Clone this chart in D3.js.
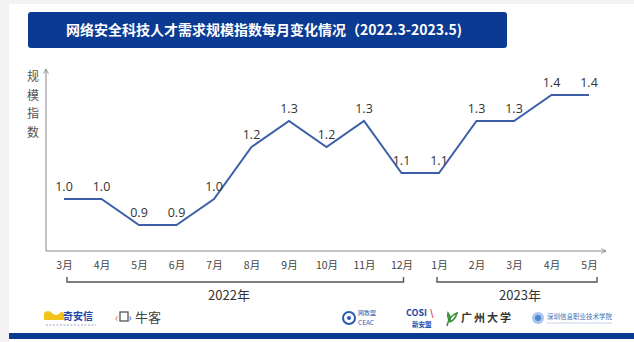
<!DOCTYPE html>
<html>
<head>
<meta charset="utf-8">
<script src="https://cdn.jsdelivr.net/npm/d3@7"></script>
<style>
  html, body { margin: 0; padding: 0; background: #f3f3f3; }
  svg { display: block; font-family: "Noto Sans CJK SC", "Noto Sans", sans-serif; }
</style>
</head>
<body>
<svg id="chart" width="634" height="342"></svg>
<script>
// Monthly index, March 2022 – May 2023
const months = ["3月","4月","5月","6月","7月","8月","9月","10月","11月","12月","1月","2月","3月","4月","5月"];
const values = [1.0, 1.0, 0.9, 0.9, 1.0, 1.2, 1.3, 1.2, 1.3, 1.1, 1.1, 1.3, 1.3, 1.4, 1.4];
const years = ["2022年", "2023年"];
const yearStart = [0, 10];
const yearEnd = [9, 14];
const titleText = "网络安全科技人才需求规模指数每月变化情况（2022.3-2023.5)";
const yAxisTitle = ["规", "模", "指", "数"];

const svg = d3.select("#chart");
const navy = "#0b3a92";
const lineColor = "#3d5fa8";

// page background
svg.append("rect").attr("x", 9).attr("y", 4).attr("width", 625).attr("height", 338).attr("fill", "#ffffff");

// title banner
svg.append("rect").attr("x", 28).attr("y", 12).attr("width", 479).attr("height", 36)
  .attr("rx", 3).attr("fill", navy);
svg.append("text").attr("x", 264).attr("y", 35).attr("text-anchor", "middle")
  .attr("fill", "#ffffff").attr("font-size", 14).attr("font-weight", 700)
  .text(titleText);

// scales
const x = d3.scalePoint().domain(d3.range(months.length)).range([64, 589]);
const y = d3.scaleLinear().domain([0.8, 1.5]).range([251, 69]);
const axisLeftX = 46, axisRightX = 606;

// arrow marker
const defs = svg.append("defs");
defs.append("marker").attr("id", "arrow").attr("viewBox", "0 0 10 10")
  .attr("refX", 9).attr("refY", 5).attr("markerWidth", 6).attr("markerHeight", 6)
  .attr("orient", "auto-start-reverse")
  .append("path").attr("d", "M1,1 L9,5 L1,9").attr("fill", "none").attr("stroke", "#777").attr("stroke-width", 1.2);

// axes lines
svg.append("line").attr("x1", axisLeftX).attr("x2", axisLeftX).attr("y1", y(0.8)).attr("y2", y(1.5))
  .attr("stroke", "#888").attr("stroke-width", 1).attr("marker-end", "url(#arrow)");
svg.append("line").attr("x1", axisLeftX).attr("x2", axisRightX).attr("y1", y(0.8)).attr("y2", y(0.8))
  .attr("stroke", "#888").attr("stroke-width", 1).attr("marker-end", "url(#arrow)");

// y axis title, stacked vertically
svg.append("g").selectAll("text").data(yAxisTitle).join("text")
  .attr("x", 33).attr("y", (d, i) => 81 + i * 18.5).attr("text-anchor", "middle")
  .attr("font-size", 12).attr("fill", "#555").text(d => d);

// x axis month labels
const xAxis = d3.axisBottom(x).tickSize(0).tickPadding(0).tickFormat(i => months[i]);
const gx = svg.append("g").attr("transform", `translate(0,${y(0.8) + 11})`).call(xAxis);
gx.select(".domain").remove();
gx.selectAll("text").attr("font-size", 10.5).attr("fill", "#444")
  .attr("font-family", "\"Noto Sans CJK SC\", sans-serif");

// year brackets
const by = 282;
years.forEach((label, k) => {
  const x0 = x(yearStart[k]) + (k === 0 ? 3 : -2);
  const x1 = x(yearEnd[k]) + (k === 0 ? 2 : 8);
  svg.append("path")
    .attr("d", `M${x0},${by - 5} V${by} H${x1} V${by - 5}`)
    .attr("fill", "none").attr("stroke", "#555").attr("stroke-width", 1.4);
  svg.append("text").attr("x", k === 0 ? 229 : 520).attr("y", by + 18).attr("text-anchor", "middle")
    .attr("font-size", 13).attr("fill", "#333").text(label);
});

// data line
const line = d3.line().x((d, i) => x(i)).y(d => y(d));
svg.append("path").datum(values).attr("d", line)
  .attr("fill", "none").attr("stroke", lineColor).attr("stroke-width", 2)
  .attr("stroke-linejoin", "miter");

// value labels
svg.append("g").selectAll("text").data(values).join("text")
  .attr("x", (d, i) => x(i)).attr("y", d => y(d) - 8).attr("text-anchor", "middle")
  .attr("font-size", 12.5).attr("fill", "#333")
  .attr("font-family", "\"Open Sans\", \"Noto Sans\", sans-serif")
  .text(d => d.toFixed(1));

// partner logos along the footer
const logos = svg.append("g");
// 奇安信
logos.append("path").attr("d", "M44,313 q4,-4 8,0 q4,4 8,0 q3,-3 4,1 v6 h-20 z").attr("fill", "#f2c318");
logos.append("text").attr("x", 63).attr("y", 320).attr("font-size", 10).attr("font-weight", 700)
  .attr("fill", "#1f4aa8").text("奇安信");
logos.append("line").attr("x1", 46).attr("x2", 96).attr("y1", 325).attr("y2", 325)
  .attr("stroke", "#9aa7c8").attr("stroke-width", 1).attr("stroke-dasharray", "2,1.5");
// 牛客
logos.append("text").attr("x", 115).attr("y", 322).attr("font-size", 12).attr("fill", "#e0782a").text("‹");
logos.append("rect").attr("x", 120).attr("y", 312).attr("width", 8).attr("height", 9)
  .attr("fill", "none").attr("stroke", "#555").attr("stroke-width", 1.3);
logos.append("text").attr("x", 128).attr("y", 322).attr("font-size", 12).attr("fill", "#3a7bd5").text("›");
logos.append("text").attr("x", 135).attr("y", 322).attr("font-size", 13).attr("fill", "#444").text("牛客");
// CEAC
logos.append("circle").attr("cx", 349).attr("cy", 318).attr("r", 6).attr("fill", "none")
  .attr("stroke", "#2a5db0").attr("stroke-width", 2);
logos.append("circle").attr("cx", 349).attr("cy", 318).attr("r", 2).attr("fill", "#2a5db0");
logos.append("text").attr("x", 358).attr("y", 315).attr("font-size", 6).attr("fill", "#2a5db0").text("网教盟");
logos.append("text").attr("x", 358).attr("y", 325).attr("font-size", 6.5).attr("fill", "#2a5db0").text("CEAC");
// COSIA
logos.append("text").attr("x", 406).attr("y", 316).attr("font-size", 9).attr("font-weight", 700)
  .attr("fill", "#1f4aa8").text("COSI");
logos.append("text").attr("x", 430).attr("y", 316).attr("font-size", 9).attr("font-weight", 700)
  .attr("fill", "#d33").text("\\");
logos.append("text").attr("x", 412).attr("y", 327).attr("font-size", 6.5).attr("font-weight", 700)
  .attr("fill", "#1f4aa8").text("新安盟");
// 广州大学
logos.append("path").attr("d", "M447,326 q2,-10 10,-13 q-2,7 -7,9 M450,322 q-3,-5 -2,-9 q3,4 2,9")
  .attr("fill", "none").attr("stroke", "#3b8b3b").attr("stroke-width", 1.6);
logos.append("text").attr("x", 461).attr("y", 322).attr("font-size", 11).attr("font-weight", 700)
  .attr("fill", "#333").attr("letter-spacing", 2).text("广州大学");
// 深圳信息职业技术学院
logos.append("circle").attr("cx", 538).attr("cy", 318).attr("r", 6).attr("fill", "#a9c6ea");
logos.append("circle").attr("cx", 538).attr("cy", 318).attr("r", 3).attr("fill", "#4d86cc");
logos.append("text").attr("x", 547).attr("y", 319).attr("font-size", 6.5).attr("fill", "#3a6fb5")
  .text("深圳信息职业技术学院");
logos.append("line").attr("x1", 547).attr("x2", 612).attr("y1", 323).attr("y2", 323)
  .attr("stroke", "#b5c8e4").attr("stroke-width", 0.8);

// bottom band
svg.append("rect").attr("x", 9).attr("y", 333).attr("width", 625).attr("height", 6).attr("fill", navy);
</script>
</body>
</html>
